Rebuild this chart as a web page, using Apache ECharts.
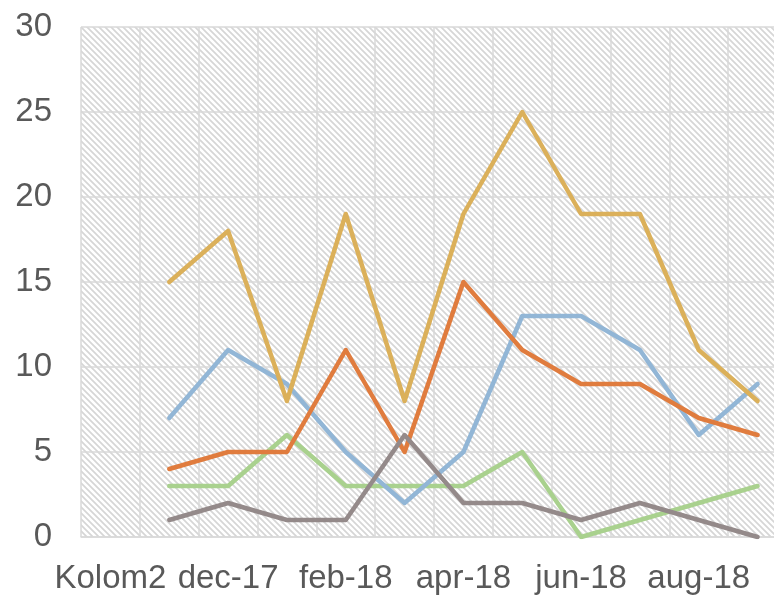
<!DOCTYPE html>
<html>
<head>
<meta charset="utf-8">
<script src="https://cdn.jsdelivr.net/npm/echarts@6/dist/echarts.min.js"></script>
<style>
  html, body { margin: 0; padding: 0; background: #fff; }
  #chart { width: 774px; height: 595px; }
</style>
</head>
<body>
<div id="chart"></div>
<script>
// categories along the x axis (first slot is an empty header column)
const months = ['Kolom2', 'nov-17', 'dec-17', 'jan-18', 'feb-18', 'mrt-18', 'apr-18', 'mei-18', 'jun-18', 'jul-18', 'aug-18', 'sep-18'];

// series values
const goldVals   = [null, 15, 18, 8, 19, 8, 19, 25, 19, 19, 11, 8];
const orangeVals = [null, 4, 5, 5, 11, 5, 15, 11, 9, 9, 7, 6];
const blueVals   = [null, 7, 11, 9, 5, 2, 5, 13, 13, 11, 6, 9];
const greenVals  = [null, 3, 3, 6, 3, 3, 3, 5, 0, 1, 2, 3];
const greyVals   = [null, 1, 2, 1, 1, 6, 2, 2, 1, 2, 1, 0];

const yTicks = [0, 5, 10, 15, 20, 25, 30];

// diagonal hatch for the plot background
function hatch() {
  let c = document.createElement('canvas');
  c.width = 6; c.height = 6;
  let ctx = c.getContext('2d');
  ctx.fillStyle = '#ffffff';
  ctx.fillRect(0, 0, 6, 6);
  ctx.strokeStyle = '#d6d6d6';
  ctx.lineWidth = 1.7;
  ctx.beginPath();
  ctx.moveTo(-1, -1); ctx.lineTo(7, 7);
  ctx.moveTo(-7, -1); ctx.lineTo(1, 7);
  ctx.moveTo(5, -1); ctx.lineTo(13, 7);
  ctx.stroke();
  return c;
}

const font = { fontFamily: '"Liberation Sans", Arial, sans-serif', fontSize: 33, color: '#595959' };

function line(name, data, color) {
  return {
    name: name,
    type: 'line',
    data: data,
    symbol: 'none',
    connectNulls: false,
    lineStyle: { color: color, width: 4.5, cap: 'round', join: 'round' },
    itemStyle: { color: color }
  };
}

let chart = echarts.init(document.getElementById('chart'));
chart.setOption({
  animation: false,
  grid: {
    left: 81, top: 27, width: 706, height: 510,
    outerBoundsMode: 'none',
    containLabel: false,
    show: true,
    borderWidth: 0,
    backgroundColor: { image: hatch(), repeat: 'repeat' }
  },
  xAxis: {
    type: 'category',
    data: months,
    boundaryGap: true,
    axisLine: { lineStyle: { color: '#d9d9d9', width: 1.5 } },
    axisTick: { show: false },
    axisLabel: Object.assign({ interval: 1, margin: 25 }, font),
    splitLine: { show: true, interval: 0, lineStyle: { color: '#d9d9d9', width: 1.5 } }
  },
  yAxis: {
    type: 'value',
    min: yTicks[0],
    max: yTicks[yTicks.length - 1],
    interval: 5,
    axisLine: { show: false },
    axisTick: { show: false },
    axisLabel: Object.assign({ margin: 29 }, font),
    splitLine: { lineStyle: { color: '#d9d9d9', width: 1.5 } }
  },
  series: [
    line('Groen', greenVals, '#a9d18e'),
    line('Blauw', blueVals, '#92b6d6'),
    line('Oranje', orangeVals, '#e07c3e'),
    line('Grijs', greyVals, '#948a8a'),
    line('Goud', goldVals, '#dbb05a')
  ]
});
</script>
</body>
</html>
